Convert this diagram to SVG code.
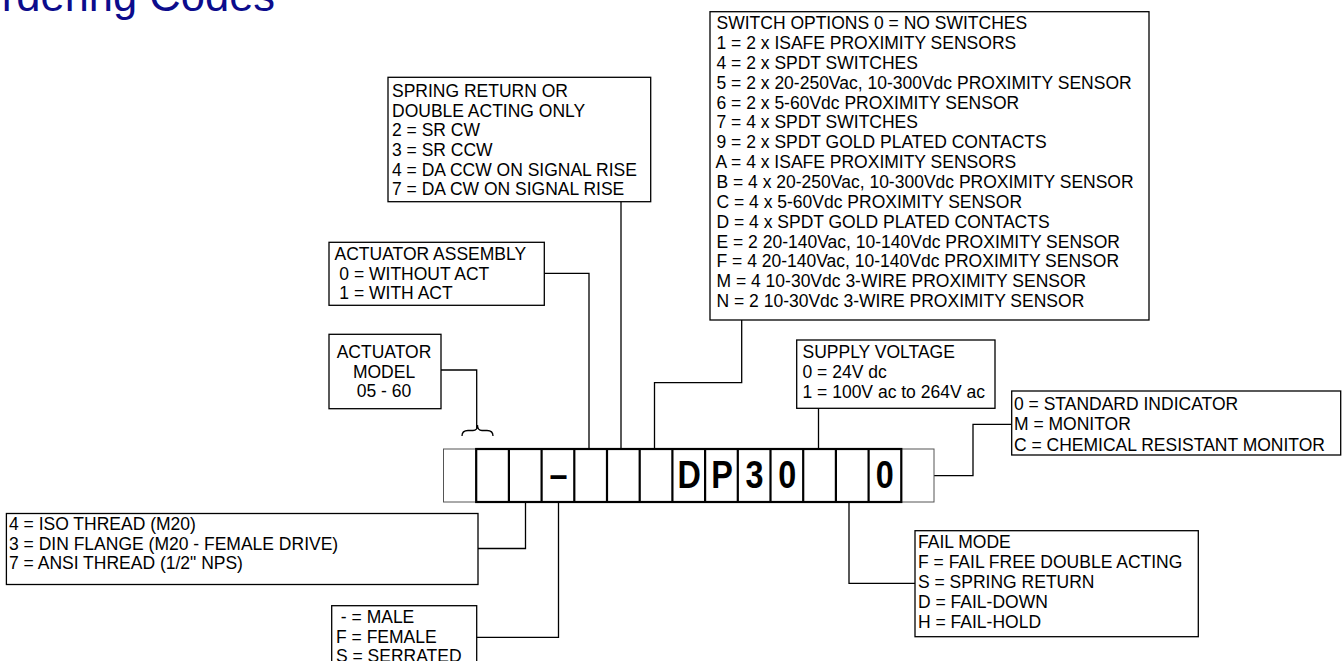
<svg xmlns="http://www.w3.org/2000/svg" width="1344" height="661" viewBox="0 0 1344 661">
<style>
.bg{fill:#fff}
.box{fill:#fff;stroke:#000;stroke-width:1.3}
.t{font-family:"Liberation Sans",Arial,sans-serif;font-size:17.5px;fill:#000;white-space:pre}
.c{text-anchor:middle}
.conn{fill:none;stroke:#000;stroke-width:1.3}
.thin{fill:#fff;stroke:#555;stroke-width:1}
.thick{fill:none;stroke:#000;stroke-width:2.2}
.big{font-family:"Liberation Sans",Arial,sans-serif;font-weight:bold;font-size:39px;text-anchor:middle;fill:#000}
.title{font-family:"Liberation Sans",Arial,sans-serif;font-size:43.5px;fill:#0c0c8c}
</style>
<rect class="bg" x="0" y="0" width="1344" height="661"/>
<text class="title" x="-32" y="11">Ordering Codes</text>

<g id="connectors">
  <path class="conn" d="M544.3,273.3 H589 V449"/>
  <path class="conn" d="M621,201.7 V449"/>
  <path class="conn" d="M741.7,320 V382.7 H654.5 V449"/>
  <path class="conn" d="M441,370 H476.7 V428"/>
  <path class="conn" d="M818.5,408.3 V449"/>
  <path class="conn" d="M934,475.6 H973 V424.3 H1011.7"/>
  <path class="conn" d="M849,502 V583.3 H915"/>
  <path class="conn" d="M478,548.5 H525.5 V502"/>
  <path class="conn" d="M476.7,637.3 H558.5 V502"/>
  <path class="conn" d="M462,436 Q462,430.5 468,430.5 H473 Q477.5,430.5 477.5,425 Q477.5,430.5 482,430.5 H487 Q493,430.5 493,436" stroke-width="1.6"/>
</g>

<g id="code-row">
  <rect class="thin" x="443.5" y="449" width="32.7" height="53"/>
  <rect class="thin" x="901.3" y="449" width="32.7" height="53"/>
  <rect class="thick" x="476.2" y="449" width="425.1" height="53"/>
  <path class="thick" d="M508.9,449V502M541.6,449V502M574.3,449V502M607,449V502M639.7,449V502M672.4,449V502M705.1,449V502M737.8,449V502M770.5,449V502M803.2,449V502M835.9,449V502M868.6,449V502"/>
  <text class="big" transform="translate(558.5,487.6) scale(0.83,1)">–</text>
  <text class="big" transform="translate(689.2,487.6) scale(0.83,1)">D</text>
  <text class="big" transform="translate(722,487.6) scale(0.83,1)">P</text>
  <text class="big" transform="translate(754.6,487.6) scale(0.83,1)">3</text>
  <text class="big" transform="translate(787.3,487.6) scale(0.83,1)">0</text>
  <text class="big" transform="translate(884.8,487.6) scale(0.83,1)">0</text>
</g>

<g id="spring-return">
  <rect class="box" x="388" y="77.3" width="262.7" height="124.4"/>
  <text class="t" x="392" y="96.9">SPRING RETURN OR</text>
  <text class="t" x="392" y="116.6">DOUBLE ACTING ONLY</text>
  <text class="t" x="392" y="136.3">2 = SR CW</text>
  <text class="t" x="392" y="156">3 = SR CCW</text>
  <text class="t" x="392" y="175.7">4 = DA CCW ON SIGNAL RISE</text>
  <text class="t" x="392" y="195.4">7 = DA CW ON SIGNAL RISE</text>
</g>

<g id="switch-options">
  <rect class="box" x="710" y="11.7" width="439" height="308.3"/>
  <text class="t" x="716.5" y="29">SWITCH OPTIONS 0 = NO SWITCHES</text>
  <text class="t" x="716.5" y="48.9">1 = 2 x ISAFE PROXIMITY SENSORS</text>
  <text class="t" x="716.5" y="68.7">4 = 2 x SPDT SWITCHES</text>
  <text class="t" x="716.5" y="88.6">5 = 2 x 20-250Vac, 10-300Vdc PROXIMITY SENSOR</text>
  <text class="t" x="716.5" y="108.5">6 = 2 x 5-60Vdc PROXIMITY SENSOR</text>
  <text class="t" x="716.5" y="128.4">7 = 4 x SPDT SWITCHES</text>
  <text class="t" x="716.5" y="148.2">9 = 2 x SPDT GOLD PLATED CONTACTS</text>
  <text class="t" x="715.5" y="168.1">A = 4 x ISAFE PROXIMITY SENSORS</text>
  <text class="t" x="716.5" y="188">B = 4 x 20-250Vac, 10-300Vdc PROXIMITY SENSOR</text>
  <text class="t" x="716.5" y="207.8">C = 4 x 5-60Vdc PROXIMITY SENSOR</text>
  <text class="t" x="716.5" y="227.7">D = 4 x SPDT GOLD PLATED CONTACTS</text>
  <text class="t" x="716.5" y="247.6">E = 2 20-140Vac, 10-140Vdc PROXIMITY SENSOR</text>
  <text class="t" x="716.5" y="267.4">F = 4 20-140Vac, 10-140Vdc PROXIMITY SENSOR</text>
  <text class="t" x="716.5" y="287.3">M = 4 10-30Vdc 3-WIRE PROXIMITY SENSOR</text>
  <text class="t" x="716.5" y="307.2">N = 2 10-30Vdc 3-WIRE PROXIMITY SENSOR</text>
</g>

<g id="actuator-assembly">
  <rect class="box" x="329" y="242.3" width="215.3" height="63"/>
  <text class="t" x="334.5" y="260.3">ACTUATOR ASSEMBLY</text>
  <text class="t" x="334.5" y="279.8" xml:space="preserve"> 0 = WITHOUT ACT</text>
  <text class="t" x="334.5" y="299.3" xml:space="preserve"> 1 = WITH ACT</text>
</g>

<g id="actuator-model">
  <rect class="box" x="329" y="334.3" width="112" height="74.4"/>
  <text class="t c" x="384" y="357.9">ACTUATOR</text>
  <text class="t c" x="384" y="377.7">MODEL</text>
  <text class="t c" x="384" y="397.4">05 - 60</text>
</g>

<g id="supply-voltage">
  <rect class="box" x="796.7" y="340" width="198.3" height="68.3"/>
  <text class="t" x="802.5" y="357.8">SUPPLY VOLTAGE</text>
  <text class="t" x="802.5" y="377.8">0 = 24V dc</text>
  <text class="t" x="802.5" y="397.8">1 = 100V ac to 264V ac</text>
</g>

<g id="indicator">
  <rect class="box" x="1011.7" y="391" width="329" height="64"/>
  <text class="t" x="1014" y="409.6">0 = STANDARD INDICATOR</text>
  <text class="t" x="1014" y="430.4">M = MONITOR</text>
  <text class="t" x="1014" y="451">C = CHEMICAL RESISTANT MONITOR</text>
</g>

<g id="fail-mode">
  <rect class="box" x="915" y="530.7" width="283.3" height="106"/>
  <text class="t" x="918" y="548">FAIL MODE</text>
  <text class="t" x="918" y="568">F = FAIL FREE DOUBLE ACTING</text>
  <text class="t" x="918" y="588">S = SPRING RETURN</text>
  <text class="t" x="918" y="608">D = FAIL-DOWN</text>
  <text class="t" x="918" y="628">H = FAIL-HOLD</text>
</g>

<g id="thread">
  <rect class="box" x="6.4" y="513.5" width="471.6" height="71"/>
  <text class="t" x="9" y="530">4 = ISO THREAD (M20)</text>
  <text class="t" x="9" y="549.7">3 = DIN FLANGE (M20 - FEMALE DRIVE)</text>
  <text class="t" x="9" y="569.4">7 = ANSI THREAD (1/2" NPS)</text>
</g>

<g id="drive">
  <rect class="box" x="331.7" y="605.7" width="145" height="80"/>
  <text class="t" x="336" y="622.7" xml:space="preserve"> - = MALE</text>
  <text class="t" x="336" y="642.5">F = FEMALE</text>
  <text class="t" x="336" y="662.3">S = SERRATED</text>
</g>
</svg>
